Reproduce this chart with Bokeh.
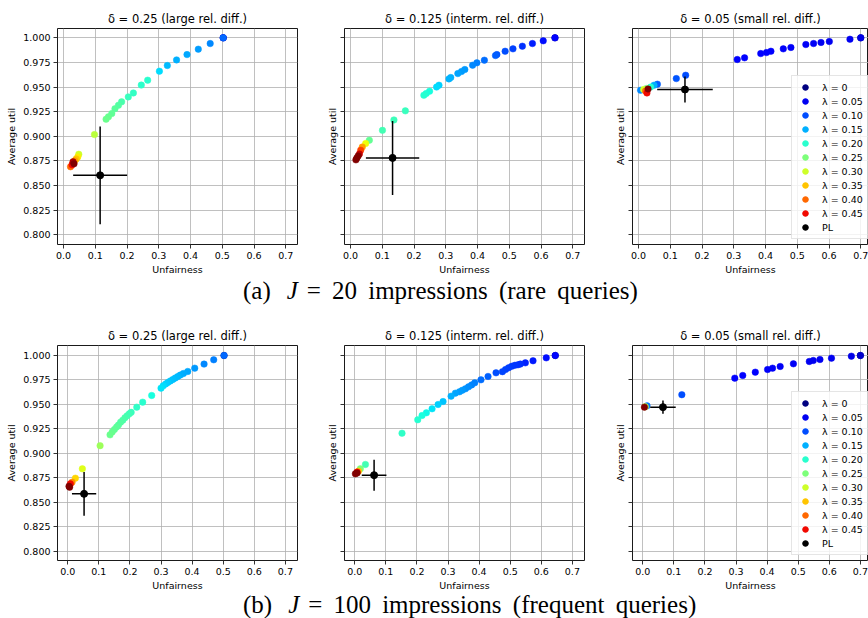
import numpy as np
from bokeh.plotting import figure
from bokeh.models import (ColumnDataSource, Range1d, FixedTicker, NumeralTickFormatter,
                          LinearColorMapper, Legend, LegendItem, Div, CustomJSTickFormatter)
from bokeh.layouts import column, row
from bokeh.transform import transform
from bokeh.embed import file_html
from bokeh.resources import INLINE

# ---------------- data ----------------
x_ticks = [0.0, 0.1, 0.2, 0.3, 0.4, 0.5, 0.6, 0.7]
y_ticks = [0.800, 0.825, 0.850, 0.875, 0.900, 0.925, 0.950, 0.975, 1.000]
titles = ["δ = 0.25 (large rel. diff.)", "δ = 0.125 (interm. rel. diff.)", "δ = 0.05 (small rel. diff.)"]
legend_lams = [0.0, 0.05, 0.10, 0.15, 0.20, 0.25, 0.30, 0.35, 0.40, 0.45]
legend_labels = ["λ = 0", "λ = 0.05", "λ = 0.10", "λ = 0.15", "λ = 0.20",
                 "λ = 0.25", "λ = 0.30", "λ = 0.35", "λ = 0.40", "λ = 0.45"]
pl_label = "PL"
cap_tags = ["(a)", "(b)"]
cap_J = ["20", "100"]
cap_desc = ["rare queries", "frequent queries"]

# J = 20, delta = 0.25
a1_unf = [0.503, 0.503, 0.503, 0.462, 0.4245, 0.389, 0.356, 0.327, 0.302, 0.265, 0.245, 0.220, 0.204,
          0.183, 0.173, 0.162, 0.152, 0.1415, 0.134, 0.0975, 0.048, 0.045, 0.040, 0.035, 0.030, 0.022,
          0.027, 0.033, 0.030]
a1_util = [1.000, 1.000, 1.000, 0.9942, 0.9885, 0.983, 0.9776, 0.9719, 0.9661, 0.957, 0.952, 0.944, 0.940,
           0.935, 0.9315, 0.928, 0.923, 0.9197, 0.9173, 0.9017, 0.8817, 0.879, 0.877, 0.875, 0.873, 0.869,
           0.871, 0.872, 0.874]
a1_lam = [0.0, 0.05, 0.115, 0.13, 0.14, 0.145, 0.15, 0.155, 0.17, 0.2, 0.203, 0.206, 0.21,
          0.22, 0.225, 0.23, 0.233, 0.237, 0.24, 0.288, 0.3, 0.33, 0.35, 0.37, 0.39, 0.4,
          0.45, 0.5, 0.48]
# J = 20, delta = 0.125
a2_unf = [0.644, 0.644, 0.607, 0.573, 0.5413, 0.5117, 0.487, 0.461, 0.4566, 0.4216, 0.398, 0.3845, 0.360,
          0.3496, 0.338, 0.3157, 0.310, 0.2786, 0.271, 0.249, 0.2383, 0.231, 0.1727, 0.1367, 0.1006,
          0.0593, 0.0476, 0.037, 0.032, 0.028, 0.024, 0.020, 0.017]
a2_util = [1.000, 1.000, 0.997, 0.9942, 0.9915, 0.9888, 0.9864, 0.983, 0.982, 0.9773, 0.9746, 0.9722, 0.9678,
           0.9658, 0.9637, 0.9597, 0.9583, 0.9519, 0.950, 0.9458, 0.9434, 0.9417, 0.9258, 0.9166, 0.906,
           0.8959, 0.8926, 0.889, 0.8858, 0.882, 0.880, 0.878, 0.876]
a2_lam = [0.0, 0.06, 0.07, 0.078, 0.086, 0.094, 0.1, 0.105, 0.108, 0.117, 0.125, 0.13, 0.137,
          0.14, 0.143, 0.15, 0.152, 0.165, 0.17, 0.19, 0.195, 0.198, 0.21, 0.212, 0.215,
          0.235, 0.32, 0.37, 0.42, 0.47, 0.5, 0.5, 0.5]
# J = 20, delta = 0.05
a3_unf = [0.700, 0.700, 0.666, 0.601, 0.5748, 0.5514, 0.527, 0.480, 0.456, 0.417, 0.403, 0.385, 0.334,
          0.311, 0.1485, 0.119, 0.0594, 0.0488, 0.038, 0.025, 0.016, 0.0064, 0.022, 0.0265, 0.030]
a3_util = [1.000, 1.000, 0.9986, 0.9963, 0.9953, 0.9942, 0.9932, 0.9902, 0.9888, 0.9864, 0.985, 0.984, 0.9797,
           0.978, 0.962, 0.9586, 0.9529, 0.9519, 0.950, 0.9485, 0.9475, 0.9468, 0.946, 0.944, 0.948]
a3_lam = [0.0, 0.045, 0.05, 0.05, 0.05, 0.052, 0.052, 0.054, 0.054, 0.056, 0.056, 0.058, 0.06,
          0.062, 0.1, 0.105, 0.11, 0.15, 0.2, 0.25, 0.3, 0.13, 0.4, 0.45, 0.5]
# J = 100, delta = 0.25
b1_unf = [0.5027, 0.5027, 0.4695, 0.4384, 0.4084, 0.386, 0.372, 0.362, 0.354, 0.346, 0.338, 0.330, 0.322,
          0.315, 0.307, 0.300, 0.270, 0.241, 0.222, 0.204, 0.198, 0.191, 0.184, 0.177, 0.170, 0.163,
          0.157, 0.150, 0.143, 0.136, 0.104, 0.047, 0.0245, 0.0138, 0.0084, 0.004, 0.006]
b1_util = [1.000, 1.000, 0.9956, 0.9912, 0.9871, 0.9837, 0.9816, 0.980, 0.9785, 0.977, 0.9755, 0.974, 0.9725,
           0.971, 0.969, 0.9667, 0.9592, 0.9524, 0.9473, 0.942, 0.9405, 0.9385, 0.9365, 0.934, 0.932, 0.929,
           0.927, 0.9245, 0.922, 0.919, 0.908, 0.8844, 0.8748, 0.8707, 0.869, 0.8666, 0.8656]
b1_lam = [0.0, 0.115, 0.125, 0.13, 0.138, 0.145, 0.148, 0.15, 0.153, 0.156, 0.158, 0.16, 0.163,
          0.166, 0.17, 0.175, 0.19, 0.2, 0.205, 0.21, 0.213, 0.216, 0.219, 0.222, 0.225, 0.228,
          0.231, 0.234, 0.237, 0.24, 0.27, 0.31, 0.34, 0.38, 0.45, 0.5, 0.5]
# J = 100, delta = 0.125
b2_unf = [0.645, 0.645, 0.616, 0.5734, 0.5488, 0.5327, 0.525, 0.515, 0.505, 0.495, 0.485, 0.475, 0.4544,
          0.4287, 0.406, 0.3859, 0.376, 0.366, 0.356, 0.346, 0.337, 0.3237, 0.3098, 0.284, 0.268, 0.2487,
          0.2304, 0.2165, 0.2026, 0.152, 0.0343, 0.018, 0.012, 0.0075, 0.002, 0.0075]
b2_util = [1.000, 1.000, 0.9976, 0.9946, 0.9925, 0.9912, 0.9905, 0.990, 0.989, 0.9875, 0.9857, 0.9835, 0.9823,
           0.9786, 0.9752, 0.9721, 0.970, 0.968, 0.966, 0.9645, 0.963, 0.9616, 0.9585, 0.953, 0.950, 0.9456,
           0.9415, 0.9388, 0.9344, 0.9207, 0.8888, 0.8844, 0.882, 0.881, 0.8793, 0.880]
b2_lam = [0.0, 0.065, 0.07, 0.076, 0.08, 0.085, 0.086, 0.088, 0.09, 0.092, 0.094, 0.096, 0.1,
          0.11, 0.117, 0.125, 0.128, 0.131, 0.134, 0.137, 0.14, 0.143, 0.15, 0.16, 0.165, 0.175,
          0.185, 0.19, 0.198, 0.205, 0.215, 0.25, 0.35, 0.45, 0.5, 0.5]
# J = 100, delta = 0.05
b3_unf = [0.700, 0.700, 0.671, 0.607, 0.570, 0.5485, 0.5357, 0.4846, 0.442, 0.4175, 0.4015, 0.362, 0.3216,
          0.296, 0.1257, 0.0138, 0.008, 0.0053]
b3_util = [1.000, 1.000, 0.9993, 0.9973, 0.9959, 0.9949, 0.9939, 0.9915, 0.9888, 0.9871, 0.9857, 0.983, 0.9796,
           0.9769, 0.960, 0.9486, 0.9478, 0.9473]
b3_lam = [0.0, 0.035, 0.045, 0.05, 0.05, 0.05, 0.05, 0.052, 0.052, 0.054, 0.054, 0.056, 0.058,
          0.06, 0.1, 0.12, 0.3, 0.5]

# PL baseline (mean and std) per panel: a1, a2, a3, b1, b2, b3
pl_unf = [0.1153, 0.1324, 0.1463, 0.0525, 0.0622, 0.065]
pl_util = [0.8603, 0.878, 0.9475, 0.8588, 0.8779, 0.9473]
pl_unf_err = [0.085, 0.084, 0.0875, 0.039, 0.0397, 0.041]
pl_util_err = [0.0497, 0.0376, 0.0132, 0.0223, 0.0158, 0.0068]

panels = [(a1_unf, a1_util, a1_lam), (a2_unf, a2_util, a2_lam), (a3_unf, a3_util, a3_lam),
          (b1_unf, b1_util, b1_lam), (b2_unf, b2_util, b2_lam), (b3_unf, b3_util, b3_lam)]

# ---------------- styling ----------------
def jet_palette(n=256):
    xs = np.linspace(0, 1, n)
    r = np.interp(xs, [0, 0.35, 0.66, 0.89, 1], [0, 0, 1, 1, 0.5])
    g = np.interp(xs, [0, 0.125, 0.375, 0.64, 0.91, 1], [0, 0, 1, 1, 0, 0])
    b = np.interp(xs, [0, 0.11, 0.34, 0.65, 1], [0.5, 1, 1, 0, 0])
    return ["#%02x%02x%02x" % (int(round(rr * 255)), int(round(gg * 255)), int(round(bb * 255)))
            for rr, gg, bb in zip(r, g, b)]

JET = jet_palette()
LAM_LOW, LAM_HIGH = 0.0, 0.5
FONT = "DejaVu Sans"
FS = "9.5px"

FRAME_H = [216, 215]
BORDER_TOP = [28, 38]
x_start = [-0.019, -0.033]
x_span = [0.756, 0.772]   # data units per 240 px of frame
y_ranges = [(0.790, 1.0095), (0.7908, 1.0102)]


def style_axis(ax, label, ticks, fmt, show_labels, tick_standoff, label_standoff):
    ax.axis_label = label
    ax.axis_label_text_font = FONT
    ax.axis_label_text_font_size = FS
    ax.axis_label_text_font_style = "normal"
    ax.axis_label_text_color = "black"
    ax.axis_label_standoff = label_standoff
    ax.ticker = FixedTicker(ticks=ticks)
    if show_labels:
        ax.formatter = NumeralTickFormatter(format=fmt)
    else:
        ax.formatter = CustomJSTickFormatter(code="return '';")
    ax.major_label_text_font = FONT
    ax.major_label_text_font_size = FS
    ax.major_label_text_color = "black"
    ax.major_label_standoff = tick_standoff
    ax.major_tick_in = 0
    ax.major_tick_out = 4
    ax.major_tick_line_color = "black"
    ax.major_tick_line_width = 0.8
    ax.minor_tick_line_color = None
    ax.axis_line_color = None


def make_panel(k):
    r, c = divmod(k, 3)
    unf, util, lam = panels[k]
    fw = 240 if c < 2 else 236
    left = [57, 24, 24][c]
    right = [23, 24, 0][c]
    x0 = x_start[r]
    x1 = x0 + fw * x_span[r] / 240.0
    p = figure(frame_width=fw, frame_height=FRAME_H[r],
               min_border_left=left, min_border_right=right,
               min_border_top=BORDER_TOP[r], min_border_bottom=31,
               x_range=Range1d(x0, x1), y_range=Range1d(*y_ranges[r]),
               output_backend="svg", toolbar_location=None, title=titles[c])
    p.title.text_font = FONT
    p.title.text_font_size = "11.5px"
    p.title.text_font_style = "normal"
    p.title.text_color = "black"
    p.title.align = "center"
    p.title.standoff = 6
    p.background_fill_color = "white"
    p.border_fill_color = "white"
    p.outline_line_color = "black"
    p.outline_line_width = 0.9
    style_axis(p.below[0], "Unfairness", x_ticks, "0.0", True, 3, 2)
    style_axis(p.left[0], "Average util", y_ticks, "0.000", c == 0, 3 if c == 0 else 0, 3)
    for g, t in ((p.xgrid[0], x_ticks), (p.ygrid[0], y_ticks)):
        g.ticker = FixedTicker(ticks=t)
        g.grid_line_color = "#b0b0b0"
        g.grid_line_width = 0.8

    mapper = LinearColorMapper(palette=JET, low=LAM_LOW, high=LAM_HIGH)
    order = np.argsort(np.array(lam), kind="stable")
    src = ColumnDataSource(dict(unf=np.array(unf)[order], util=np.array(util)[order],
                                lam=np.array(lam)[order]))
    p.scatter("unf", "util", source=src, size=6.5, fill_color=transform("lam", mapper),
              line_color=transform("lam", mapper), line_width=0.5)

    # PL with error bars
    ex = np.array([pl_unf[k]]); ey = np.array([pl_util[k]])
    dx = np.array([pl_unf_err[k]]); dy = np.array([pl_util_err[k]])
    p.segment(x0=ex - dx, y0=ey, x1=ex + dx, y1=ey, line_color="black", line_width=1.5)
    p.segment(x0=ex, y0=ey - dy, x1=ex, y1=ey + dy, line_color="black", line_width=1.5)
    pl_r = p.scatter(ex, ey, size=7, fill_color="black", line_color="black")

    if c == 2:
        # legend-only renderer: no visible points (NaN positions), colours via the same mapper
        n = len(legend_lams)
        lsrc = ColumnDataSource(dict(x=[np.nan] * n, y=[np.nan] * n, lam=legend_lams))
        lr = p.scatter("x", "y", source=lsrc, size=6.5, fill_color=transform("lam", mapper),
                       line_color=transform("lam", mapper))
        items = [LegendItem(label=lab, renderers=[lr], index=i) for i, lab in enumerate(legend_labels)]
        items.append(LegendItem(label=pl_label, renderers=[pl_r], index=0))
        leg = Legend(items=items, location=(fw - 77, 5))
        leg.label_text_font = FONT
        leg.label_text_font_size = FS
        leg.label_text_color = "black"
        leg.label_height = 14
        leg.glyph_height = 14
        leg.glyph_width = 18
        leg.spacing = 0
        leg.padding = 4
        leg.label_standoff = 8
        leg.margin = 0
        leg.border_line_color = "#cccccc"
        leg.border_line_width = 1
        leg.background_fill_color = "white"
        leg.background_fill_alpha = 0.8
        p.add_layout(leg)
    return p


def caption(i, height, line_h):
    html = ('<div style="width:868px;height:' + str(height) + 'px;text-align:left;'
            'font-family:\'Liberation Serif\',serif;font-size:25px;line-height:' + str(line_h) + 'px;'
            'color:#000;white-space:nowrap;padding-left:243px;padding-top:0px;box-sizing:border-box;'
            'word-spacing:5px;overflow:visible;">'
            + cap_tags[i]
            + '<i style="margin-left:16px">J</i>'
            + '<span style="margin-left:9px">=</span>'
            + '<span style="margin-left:11px">' + cap_J[i] + '</span>'
            + ' impressions (' + cap_desc[i] + ')</div>')
    return Div(text=html, width=868, height=height, margin=0)


figs = [make_panel(k) for k in range(6)]
layout = column(row(*figs[:3]), caption(0, 30, 27), row(*figs[3:]), caption(1, 28, 24))

open("out.html", "w").write(file_html(layout, INLINE))
